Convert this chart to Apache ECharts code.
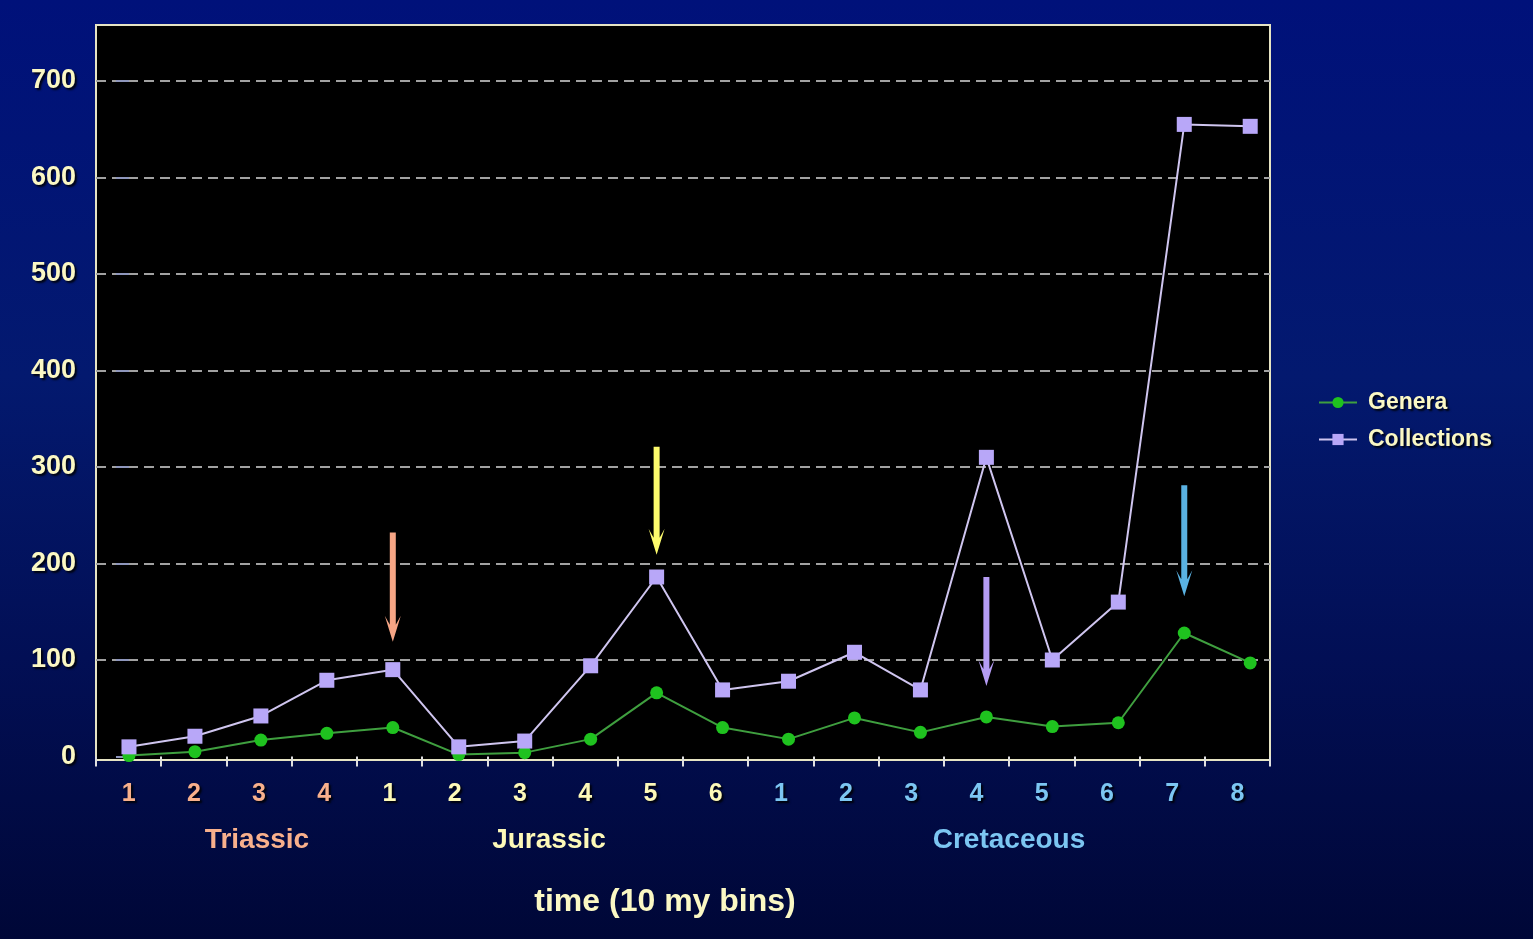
<!DOCTYPE html>
<html>
<head>
<meta charset="utf-8">
<title>Genera and collections per 10 my bin</title>
<script src="https://cdn.jsdelivr.net/npm/echarts@6/dist/echarts.min.js"></script>
<style>
    html, body { margin: 0; padding: 0; }
    body { background: linear-gradient(180deg, #00117a 0%, #03196f 40%, #020f55 70%, #000737 100%); }
    #chart { width: 1533px; height: 939px; }
</style>
</head>
<body>
<div id="chart"></div>
<script>
    // bins along the time axis, grouped by period
    const binLabels = ['1', '2', '3', '4', '1', '2', '3', '4', '5', '6', '1', '2', '3', '4', '5', '6', '7', '8'];
    const binPeriod = [0, 0, 0, 0, 1, 1, 1, 1, 1, 1, 2, 2, 2, 2, 2, 2, 2, 2];
    const periodNames = ['Triassic', 'Jurassic', 'Cretaceous'];
    const periodColors = ['#f8b08c', '#fdf9b8', '#7cc6f2'];

    const genera = [1, 5, 17, 24, 30, 2, 4, 18, 66, 30, 18, 40, 25, 41, 31, 35, 128, 97];
    const collections = [10, 21, 42, 79, 90, 10, 16, 94, 186, 69, 78, 108, 69, 310, 100, 160, 655, 653];

    // arrows: [bin index, top value, tip value]
    const arrows = [[4, 232, 119], [8, 321, 209], [13, 186, 73], [16, 281, 166]];
    const arrowColors = ['#f6a585', '#fdfb6c', '#b59cf4', '#5ab2e2'];

    const cream = '#fbf8c4';
    const textShadow = {
        textShadowColor: 'rgba(0,0,0,0.85)',
        textShadowBlur: 2,
        textShadowOffsetX: 2,
        textShadowOffsetY: 2
    };

    const chart = echarts.init(document.getElementById('chart'));

    chart.setOption({
        backgroundColor: 'transparent',
        animation: false,
        textStyle: { fontFamily: '"Liberation Sans", Arial, sans-serif' },
        grid: {
            left: 96,
            right: 263,
            top: 25,
            bottom: 182.5,
            containLabel: false
        },
        legend: {
            orient: 'vertical',
            left: 1313,
            top: 386,
            itemWidth: 38,
            itemHeight: 14,
            itemGap: 14,
            data: ['Genera', 'Collections'],
            textStyle: Object.assign({
                color: cream,
                fontSize: 23,
                fontWeight: 'bold',
                padding: [0, 0, 0, 6]
            }, textShadow)
        },
        graphic: [
            {
                // plot frame; its bottom edge doubles as the x axis line
                type: 'rect',
                z: -1,
                shape: { x: 96, y: 25, width: 1174, height: 735 },
                style: { fill: '#000', stroke: '#e6e4c4', lineWidth: 2 },
                silent: true
            },
            ...periodNames.map((name, i) => ({
                type: 'text',
                x: [257, 549, 1009][i],
                y: 840,
                silent: true,
                style: {
                    text: name,
                    fill: periodColors[i],
                    font: 'bold 28px "Liberation Sans", Arial, sans-serif',
                    textAlign: 'center',
                    textVerticalAlign: 'middle',
                    shadowColor: 'rgba(0,0,0,0.8)',
                    shadowBlur: 2,
                    shadowOffsetX: 2,
                    shadowOffsetY: 2
                }
            })),
            {
                type: 'text',
                x: 665,
                y: 902,
                silent: true,
                style: {
                    text: 'time (10 my bins)',
                    fill: cream,
                    font: 'bold 32px "Liberation Sans", Arial, sans-serif',
                    textAlign: 'center',
                    textVerticalAlign: 'middle',
                    shadowColor: 'rgba(0,0,0,0.8)',
                    shadowBlur: 2,
                    shadowOffsetX: 2,
                    shadowOffsetY: 2
                }
            }
        ],
        xAxis: [
            {
                type: 'category',
                data: binLabels,
                offset: 3.5,
                axisLine: { show: false },
                axisTick: { show: true, length: 10, lineStyle: { color: '#e0e0e0', width: 2 } },
                axisLabel: Object.assign({
                    fontSize: 25,
                    fontWeight: 'bold',
                    margin: 22,
                    color: (value, index) => periodColors[binPeriod[index]]
                }, textShadow),
                splitLine: { show: false }
            },
            {
                // hidden value axis that places the points between ticks
                type: 'value',
                min: -0.5,
                max: 17.3,
                show: false
            }
        ],
        yAxis: {
            type: 'value',
            min: 0,
            max: 758,
            interval: 100,
            axisLine: { show: false },
            axisTick: { show: true, length: 13, lineStyle: { color: '#8e96bc', width: 2 } },
            axisLabel: Object.assign({
                color: cream,
                fontSize: 27,
                fontWeight: 'bold',
                margin: 20,
                showMaxLabel: false
            }, textShadow),
            splitLine: {
                show: true,
                showMinLine: false,
                showMaxLine: false,
                lineStyle: { color: '#a2a2a2', width: 2, type: [10, 6] }
            }
        },
        series: [
            {
                name: 'Genera',
                type: 'line',
                xAxisIndex: 1,
                data: genera.map((v, i) => [i, v]),
                symbol: 'circle',
                symbolSize: 13,
                color: '#1fc21f',
                itemStyle: { color: '#1fc21f' },
                lineStyle: { color: '#3f9f3f', width: 2 },
                z: 3
            },
            {
                name: 'Collections',
                type: 'line',
                xAxisIndex: 1,
                data: collections.map((v, i) => [i, v]),
                symbol: 'rect',
                symbolSize: 15,
                color: '#b8a7f8',
                itemStyle: { color: '#b8a7f8' },
                lineStyle: { color: '#cfc5ef', width: 2 },
                z: 3
            },
            {
                name: 'arrows',
                type: 'custom',
                xAxisIndex: 1,
                data: arrows,
                z: 4,
                renderItem: (params, api) => {
                    const top = api.coord([api.value(0), api.value(1)]);
                    const tip = api.coord([api.value(0), api.value(2)]);
                    const x = tip[0];
                    const t = tip[1];
                    return {
                        type: 'polygon',
                        shape: {
                            points: [
                                [x - 3, top[1]], [x + 3, top[1]], [x + 3, t - 17],
                                [x + 8, t - 26], [x, t], [x - 8, t - 26], [x - 3, t - 17]
                            ]
                        },
                        style: { fill: arrowColors[params.dataIndex] }
                    };
                }
            }
        ]
    });
</script>
</body>
</html>
